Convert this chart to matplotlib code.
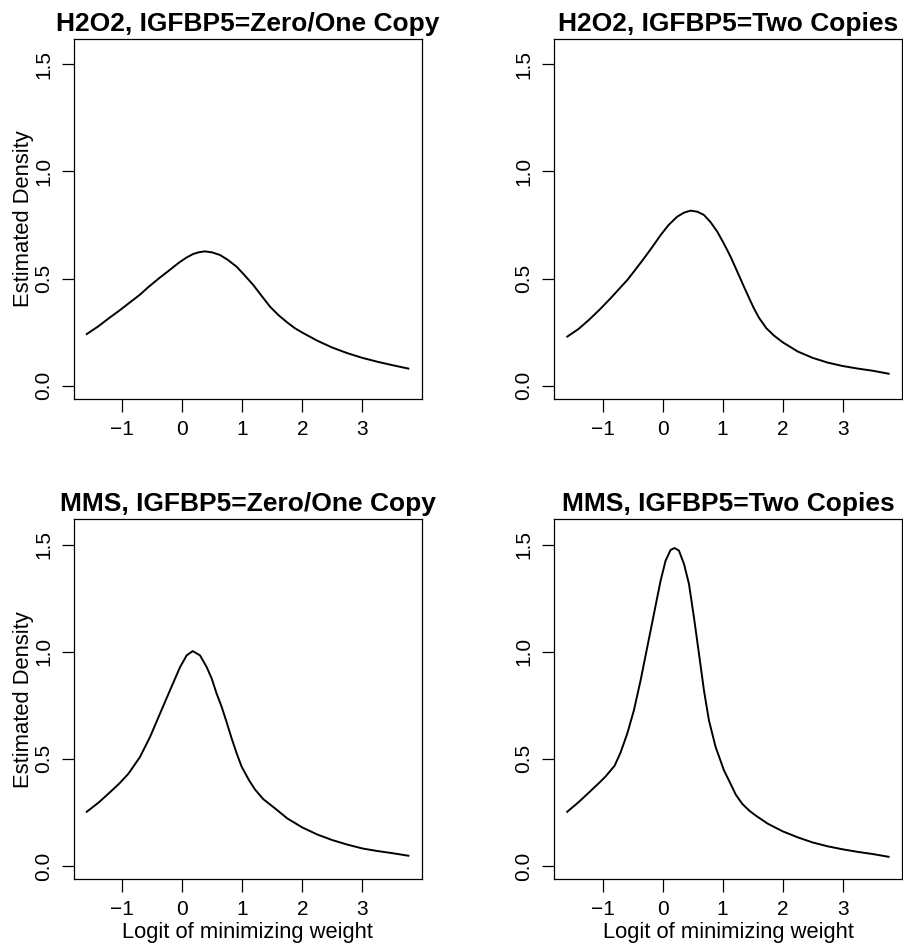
import numpy as np
import matplotlib
matplotlib.use('Agg')
import matplotlib.pyplot as plt

plt.rcParams['font.family'] = ['Liberation Sans', 'DejaVu Sans']

# ----------------------------------------------------------------------
#   Data
# ----------------------------------------------------------------------

titles = ['H2O2, IGFBP5=Zero/One Copy', 'H2O2, IGFBP5=Two Copies',
          'MMS, IGFBP5=Zero/One Copy', 'MMS, IGFBP5=Two Copies']

x_h2o2_zero = [-1.593, -1.4, -1.233, -1.038, -0.9, -0.705, -0.567, -0.372, -0.233, -0.038,
               0.07, 0.183, 0.28, 0.378, 0.5, 0.628, 0.76, 0.907, 1.04, 1.183, 1.32,
               1.462, 1.6, 1.75, 1.878, 2.0, 2.25, 2.5, 2.75, 3.0, 3.25, 3.5, 3.767]
y_h2o2_zero = [0.241, 0.277, 0.313, 0.353, 0.383, 0.425, 0.46, 0.505, 0.535, 0.578,
               0.598, 0.615, 0.623, 0.627, 0.622, 0.61, 0.587, 0.555, 0.515, 0.47, 0.42,
               0.369, 0.33, 0.295, 0.268, 0.248, 0.21, 0.178, 0.152, 0.13, 0.112, 0.096, 0.08]

x_h2o2_two = [-1.589, -1.4, -1.228, -1.05, -0.867, -0.73, -0.589, -0.45, -0.311, -0.17,
              -0.033, 0.1, 0.244, 0.36, 0.467, 0.58, 0.689, 0.8, 0.911, 1.02, 1.133,
              1.245, 1.356, 1.44, 1.522, 1.606, 1.73, 1.856, 2.0, 2.25, 2.5, 2.75, 3.0,
              3.25, 3.5, 3.767]
y_h2o2_two = [0.229, 0.265, 0.307, 0.355, 0.408, 0.45, 0.493, 0.543, 0.594, 0.648,
              0.703, 0.75, 0.789, 0.808, 0.817, 0.812, 0.797, 0.763, 0.719, 0.664, 0.602,
              0.532, 0.462, 0.41, 0.361, 0.317, 0.268, 0.234, 0.203, 0.16, 0.13, 0.108, 0.092,
              0.08, 0.07, 0.056]

x_mms_zero = [-1.593, -1.4, -1.233, -1.05, -0.9, -0.705, -0.538, -0.372, -0.205, -0.038,
              0.073, 0.173, 0.295, 0.407, 0.49, 0.573, 0.657, 0.74, 0.823, 0.907, 0.99,
              1.117, 1.212, 1.35, 1.545, 1.75, 2.0, 2.25, 2.5, 2.75, 3.0, 3.25, 3.5, 3.767]
y_mms_zero = [0.253, 0.295, 0.337, 0.385, 0.43, 0.509, 0.602, 0.711, 0.82, 0.928,
              0.983, 1.003, 0.983, 0.928, 0.875, 0.804, 0.742, 0.67, 0.595, 0.525, 0.463,
              0.398, 0.357, 0.312, 0.269, 0.222, 0.18, 0.147, 0.121, 0.1, 0.082, 0.07, 0.06,
              0.048]

x_mms_two = [-1.59, -1.4, -1.228, -1.05, -0.95, -0.8, -0.7, -0.589, -0.478, -0.367,
             -0.256, -0.144, -0.033, 0.05, 0.133, 0.2, 0.272, 0.356, 0.439, 0.522, 0.606,
             0.689, 0.772, 0.883, 1.022, 1.122, 1.22, 1.328, 1.45, 1.55, 1.75, 2.0, 2.25,
             2.5, 2.75, 3.0, 3.25, 3.5, 3.767]
y_mms_two = [0.253, 0.298, 0.343, 0.39, 0.418, 0.468, 0.53, 0.618, 0.727, 0.866,
             1.021, 1.177, 1.332, 1.425, 1.475, 1.484, 1.472, 1.41, 1.317, 1.161, 0.991,
             0.82, 0.68, 0.556, 0.447, 0.39, 0.333, 0.29, 0.257, 0.236, 0.198, 0.162, 0.134,
             0.11, 0.092, 0.078, 0.066, 0.056, 0.043]

xs = [x_h2o2_zero, x_h2o2_two, x_mms_zero, x_mms_two]
ys = [y_h2o2_zero, y_h2o2_two, y_mms_zero, y_mms_two]

xticks = [-1, 0, 1, 2, 3]
xticklabels = ['\u22121', '0', '1', '2', '3']
yticks = [0.0, 0.5, 1.0, 1.5]
yticklabels = ['0.0', '0.5', '1.0', '1.5']

# ----------------------------------------------------------------------
#   Plot
# ----------------------------------------------------------------------

fig = plt.figure(figsize=(9.04, 9.49), dpi=100)

W, H = 904., 949.
boxes = [(74, 39), (554.3, 39), (74, 519.3), (554.3, 519.3)]
bw, bh = 347.7, 360.

for i, (bx, by) in enumerate(boxes):
    ax = fig.add_axes([bx / W, 1 - (by + bh) / H, bw / W, bh / H])
    ax.plot(xs[i], ys[i], color='k', lw=1.4, solid_joinstyle='round')

    ax.set_xlim(-1.805, 3.99)
    ax.set_ylim(-0.062, 1.618)
    ax.set_xticks(xticks)
    ax.set_xticklabels(xticklabels)
    ax.set_yticks(yticks)
    ax.set_yticklabels(yticklabels, rotation=90, va='center')
    ax.tick_params(labelsize=15, length=9, width=0.9, pad=6)
    for s in ax.spines.values():
        s.set_linewidth(0.9)

    ax.set_title(titles[i], fontsize=19, fontweight='bold', pad=6)

    if i % 2 == 0:
        ax.set_ylabel('Estimated Density', fontsize=15.8, labelpad=0)
    if i >= 2:
        ax.set_xlabel('Logit of minimizing weight', fontsize=15.8, labelpad=2)

plt.savefig('out.png', dpi=100)
plt.close()
